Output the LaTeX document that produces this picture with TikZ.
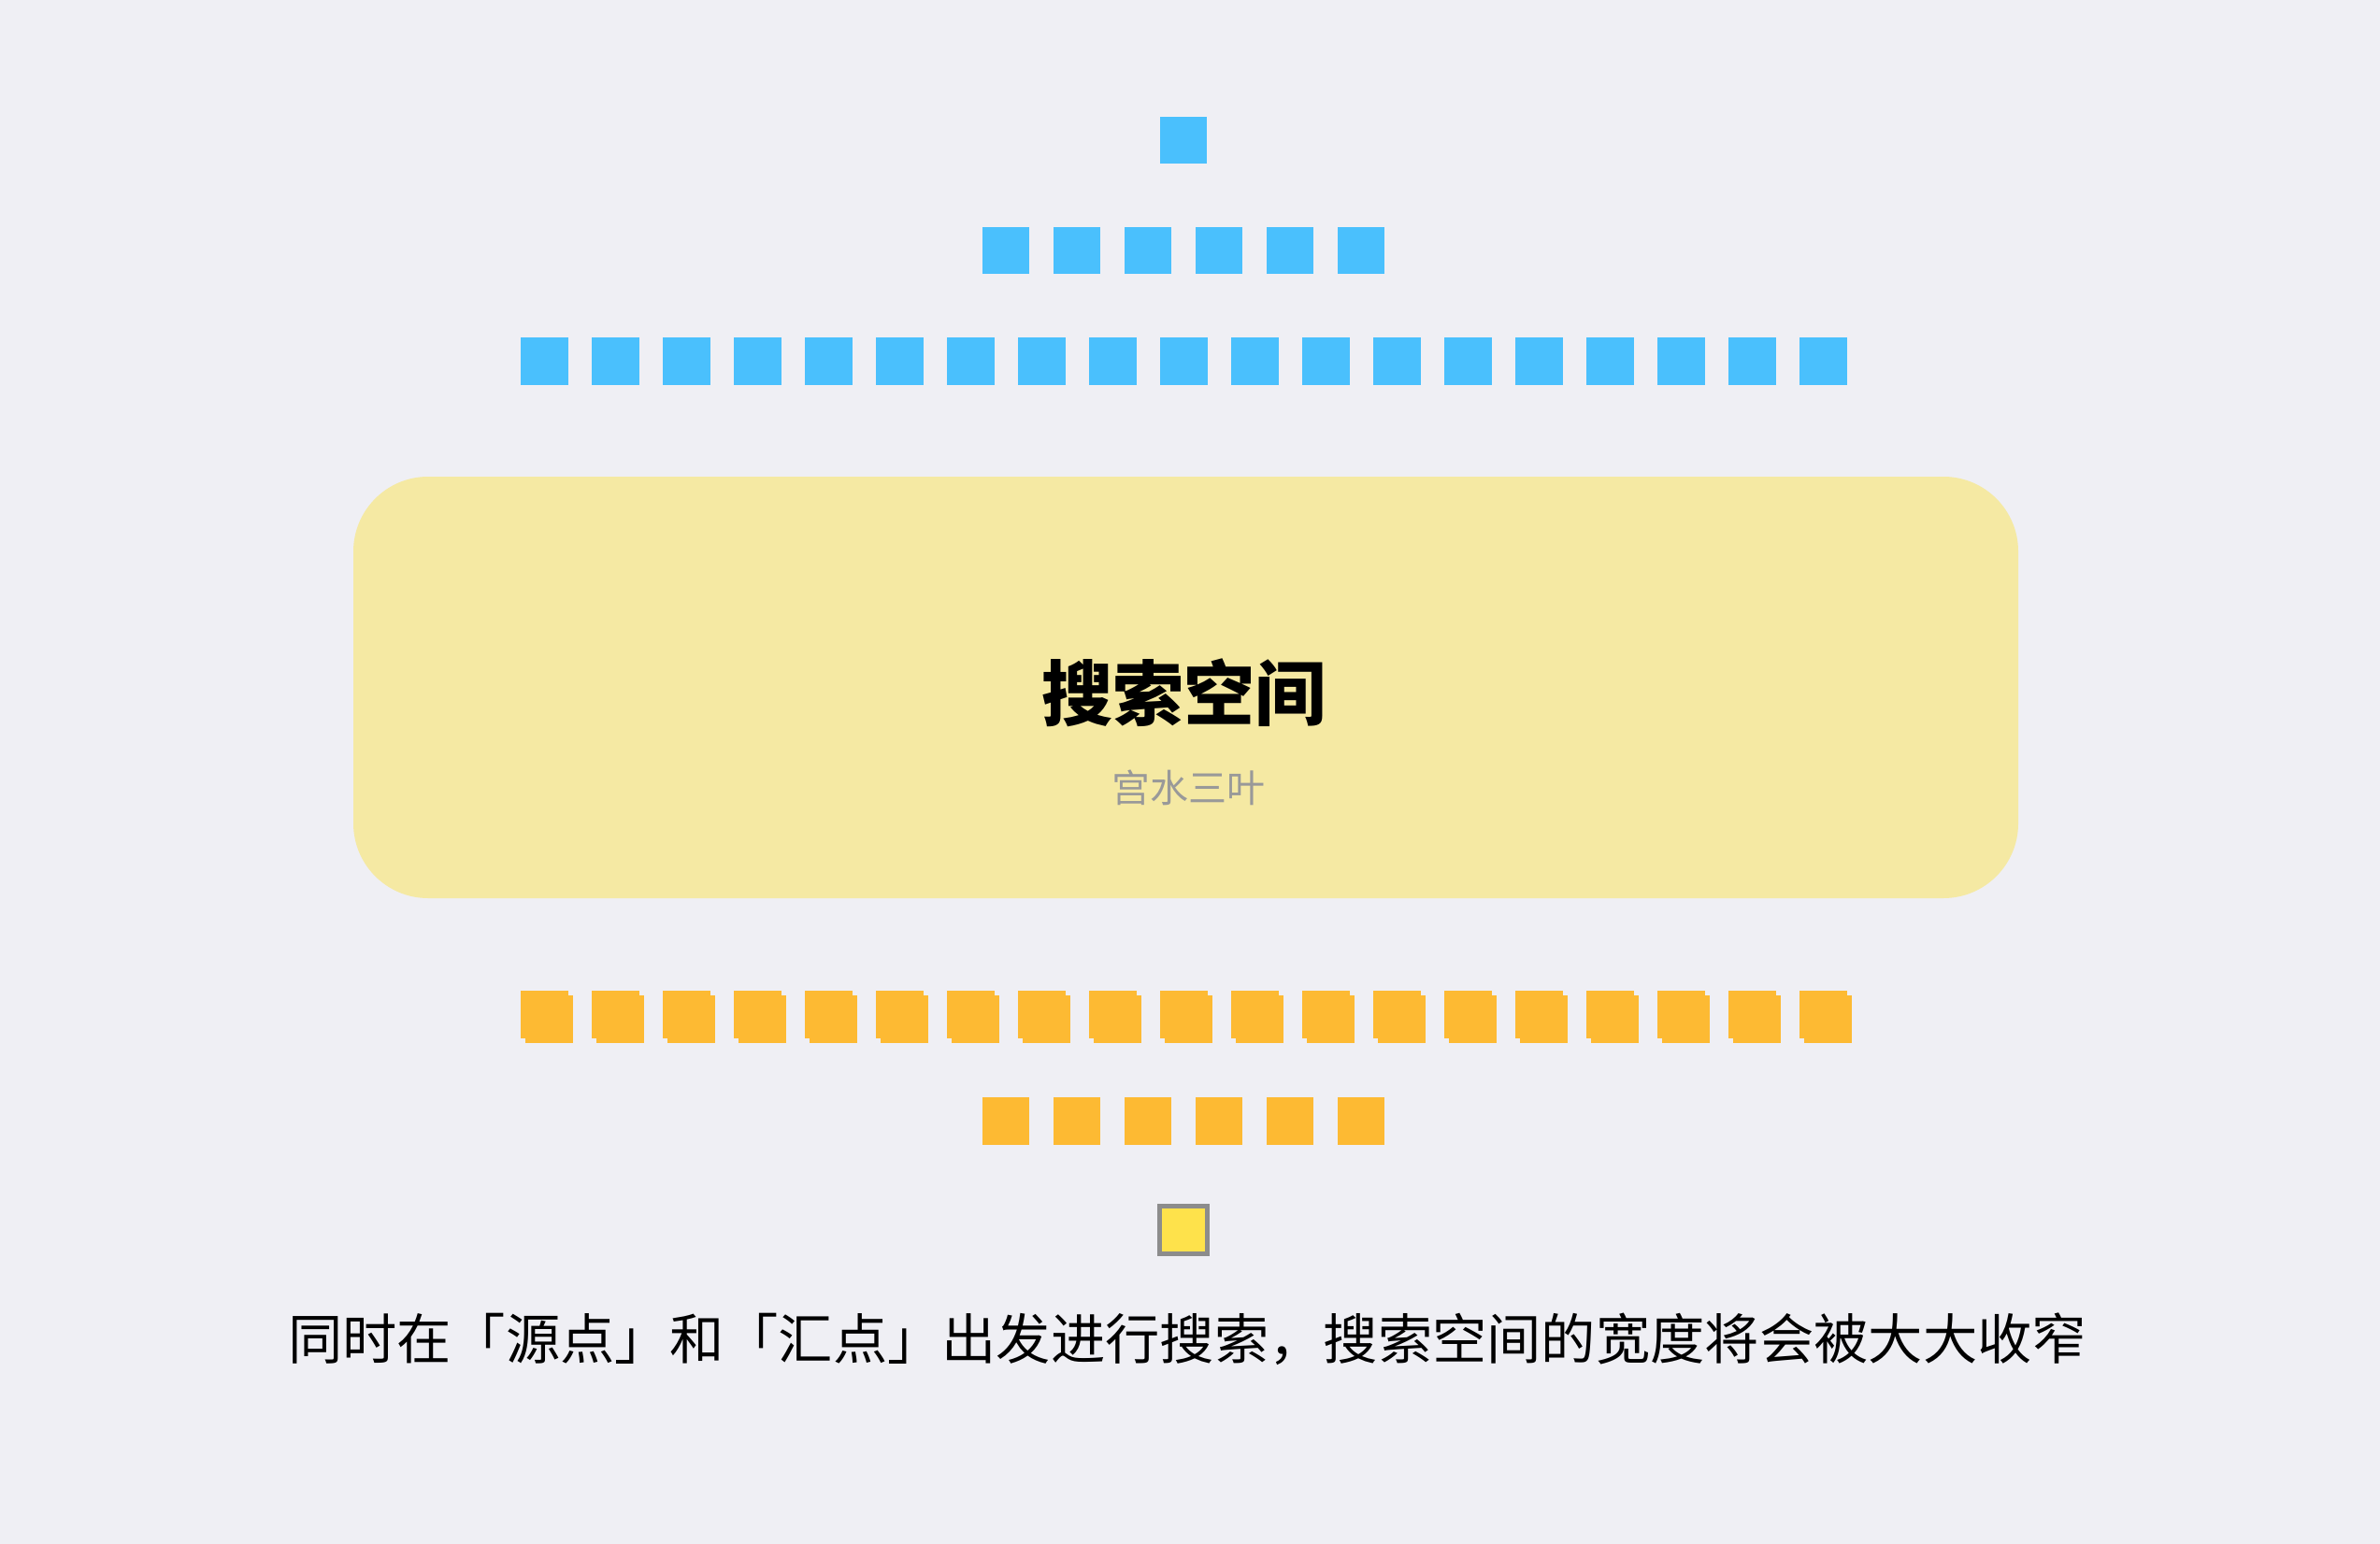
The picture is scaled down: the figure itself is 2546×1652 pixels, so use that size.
\documentclass[tikz,border=0pt]{standalone}
\usepackage{fontspec}
\newfontfamily\cjk{Noto Sans CJK SC}
\definecolor{bg}{HTML}{EFEFF4}
\definecolor{bluesq}{HTML}{4AC0FD}
\definecolor{orangesq}{HTML}{FDBA33}
\definecolor{panel}{HTML}{F5E9A3}
\definecolor{goal}{HTML}{FEE24B}
\definecolor{goalline}{HTML}{8C8C8C}
\definecolor{subgray}{HTML}{999999}
\tikzset{
  bsq/.style={fill=bluesq, draw=none, minimum size=25.25pt, inner sep=0pt, outer sep=0pt},
  osq/.style={fill=orangesq, draw=none, minimum size=25.25pt, inner sep=0pt, outer sep=0pt},
  goalsq/.style={fill=goal, draw=goalline, line width=2.5pt, minimum size=25.5pt, inner sep=0pt},
  panelbox/.style={fill=panel, draw=none, rounded corners=40pt, minimum width=890.5pt, minimum height=225.5pt, inner sep=0pt},
}
\begin{document}
\begin{tikzpicture}[x=0.5pt,y=-0.5pt]
\fill[bg] (0,0) rectangle (2546,1652);
\useasboundingbox (0,0) rectangle (2546,1652);
% blue rows
\node[bsq] (b1) at (1266,150) {};
\foreach \i in {0,...,5}{\node[bsq] (b2-\i) at ({1076+76*\i},268) {};}
\foreach \i in {0,...,18}{\node[bsq] (b3-\i) at ({582.5+76*\i},386.5) {};}
% panel
\node[panelbox] (panel) at (1268.5,735.5) {};
\node[font=\cjk\bfseries\fontsize{38pt}{44pt}\selectfont, text=black, inner sep=0pt] (title) at (1266,741) {搜索空间};
\node[font=\cjk\fontsize{20.5pt}{24pt}\selectfont, text=subgray, inner sep=0pt] (author) at (1271,843) {宫水三叶};
% orange rows
\foreach \i in {0,...,18}{
  \node[osq] (os-\i) at ({587.5+76*\i},1090.5) {};
  \node[osq] (o1-\i) at ({582.5+76*\i},1085.5) {};
}
\foreach \i in {0,...,5}{\node[osq] (o2-\i) at ({1076+76*\i},1199.5) {};}
% goal
\node[goalsq] (goal) at (1266,1316) {};
% caption
\node[font=\cjk\fontsize{29.15pt}{35pt}\selectfont, text=black, inner sep=0pt] (caption) at (1270,1433) {同时在「源点」和「汇点」出发进行搜索，搜索空间的宽度将会被大大收窄};
\end{tikzpicture}
\end{document}
